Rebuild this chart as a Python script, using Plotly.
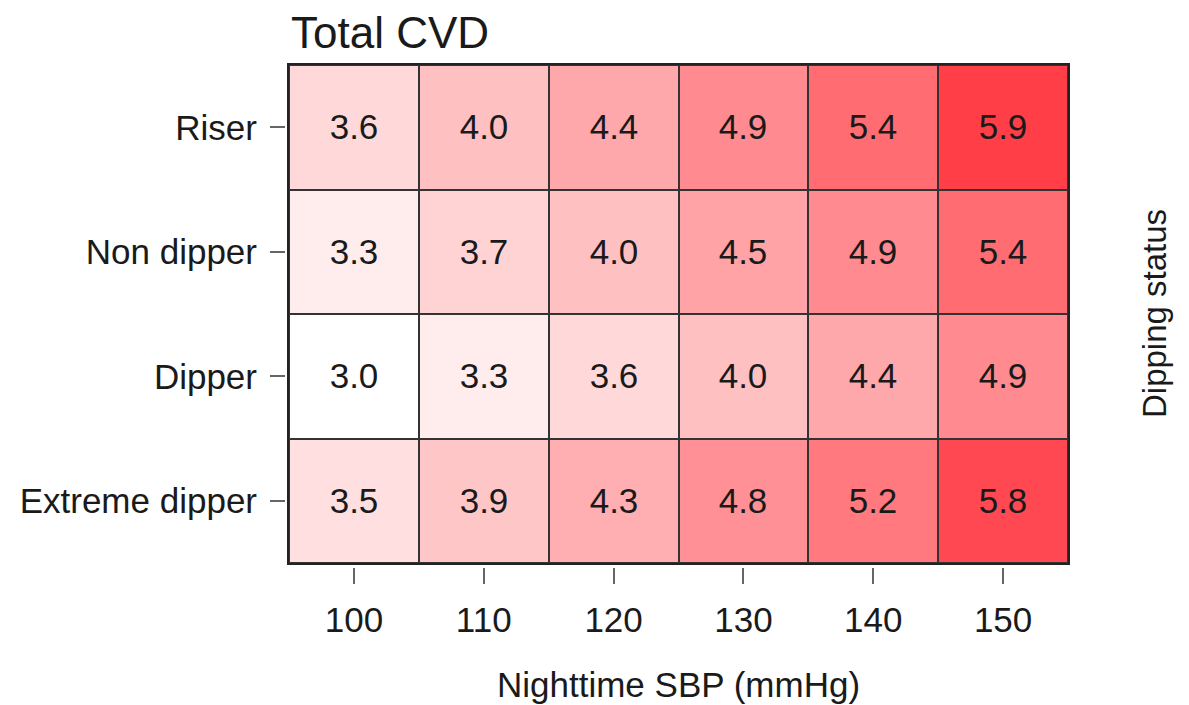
import plotly.graph_objects as go

# Nighttime systolic BP levels (columns) and dipping-status groups (rows, bottom to top)
sbp_levels = [100, 110, 120, 130, 140, 150]
dipping_groups = ["Extreme dipper", "Dipper", "Non dipper", "Riser"]

# Estimated risk of total CVD for each group across SBP levels
risk_extreme_dipper = [3.5, 3.9, 4.3, 4.8, 5.2, 5.8]
risk_dipper = [3.0, 3.3, 3.6, 4.0, 4.4, 4.9]
risk_non_dipper = [3.3, 3.7, 4.0, 4.5, 4.9, 5.4]
risk_riser = [3.6, 4.0, 4.4, 4.9, 5.4, 5.9]

z = [risk_extreme_dipper, risk_dipper, risk_non_dipper, risk_riser]
row_idx = list(range(len(dipping_groups)))

FONT = "Liberation Sans, Arial, sans-serif"
TXT = "#1a1a1a"

W, H = 1189, 705
ML, MR, MT, MB = 285, 121, 65, 138
pw = W - ML - MR
ph = H - MT - MB
gap = 4  # space between the box and the tick axes

fig = go.Figure()

fig.add_trace(go.Heatmap(
    x=sbp_levels,
    y=row_idx,
    z=z,
    zmin=3.0,
    zmax=5.9,
    colorscale=[
        [0.0, "#ffffff"],
        [0.35, "#ffbfc1"],
        [0.65, "#ff8c91"],
        [0.83, "#ff6d72"],
        [1.0, "#ff3e48"],
    ],
    showscale=False,
    xgap=2,
    ygap=2,
    texttemplate="%{z:.1f}",
    textfont=dict(family=FONT, size=35, color=TXT),
    hoverinfo="skip",
))

# invisible trace carrying the offset tick axes
xs = [x for _ in row_idx for x in sbp_levels]
ys = [r for r in row_idx for _ in sbp_levels]
fig.add_trace(go.Scatter(
    x=xs, y=ys, xaxis="x2", yaxis="y2", mode="markers",
    marker=dict(opacity=0), hoverinfo="skip", showlegend=False,
))

fig.update_layout(
    width=W,
    height=H,
    margin=dict(l=ML, r=MR, t=MT, b=MB, pad=0),
    paper_bgcolor="white",
    plot_bgcolor="#333333",
    showlegend=False,
    xaxis=dict(
        domain=[gap / pw, 1],
        range=[95, 155],
        showgrid=False, zeroline=False,
        showticklabels=False, ticks="",
        showline=True, mirror=True, linecolor="#222222", linewidth=2,
        fixedrange=True,
    ),
    yaxis=dict(
        domain=[gap / ph, 1],
        range=[-0.5, 3.5],
        showgrid=False, zeroline=False,
        showticklabels=False, ticks="",
        showline=True, mirror=True, linecolor="#222222", linewidth=2,
        fixedrange=True,
    ),
    xaxis2=dict(
        overlaying="x", anchor="free", position=0,
        range=[95, 155],
        tickmode="array", tickvals=sbp_levels, ticktext=[str(v) for v in sbp_levels],
        ticks="outside", ticklen=16, tickwidth=1.5, tickcolor="#666666",
        ticklabelstandoff=6,
        tickfont=dict(family=FONT, size=35, color=TXT),
        showgrid=False, zeroline=False, showline=False,
        fixedrange=True,
    ),
    yaxis2=dict(
        overlaying="y", anchor="free", position=0,
        range=[-0.5, 3.5],
        tickmode="array", tickvals=row_idx, ticktext=dipping_groups,
        ticks="outside", ticklen=15, tickwidth=1.5, tickcolor="#666666",
        ticklabelstandoff=6,
        tickfont=dict(family=FONT, size=35, color=TXT),
        showgrid=False, zeroline=False, showline=False,
        fixedrange=True,
    ),
    annotations=[
        dict(text="Total CVD", xref="paper", yref="paper",
             x=gap / pw, y=1, xanchor="left", yanchor="bottom", yshift=6,
             showarrow=False, font=dict(family=FONT, size=44, color=TXT)),
        dict(text="Nighttime SBP (mmHg)", xref="paper", yref="paper",
             x=(gap / pw + 1) / 2, y=0, xanchor="center", yanchor="middle", yshift=-117,
             showarrow=False, font=dict(family=FONT, size=35, color=TXT)),
        dict(text="Dipping status", xref="paper", yref="paper",
             x=1, y=(gap / ph + 1) / 2, xanchor="center", yanchor="middle", xshift=86,
             textangle=-90, showarrow=False, font=dict(family=FONT, size=33, color=TXT)),
    ],
)

fig.write_html("out.html")
